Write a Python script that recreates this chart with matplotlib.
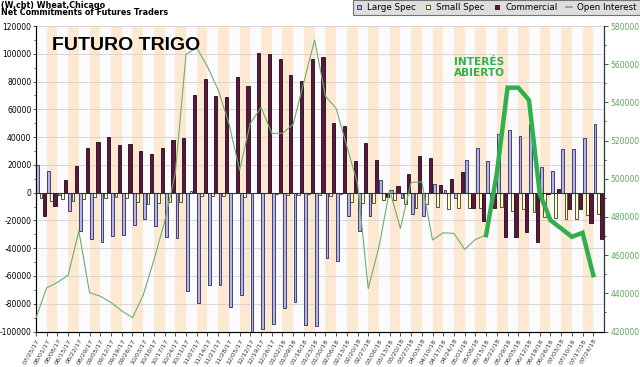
import numpy as np
import matplotlib
matplotlib.use("Agg")
import matplotlib.pyplot as plt
from matplotlib.lines import Line2D

dates = ["07/25/17", "08/01/17", "08/08/17", "08/15/17", "08/22/17", "08/29/17",
         "09/05/17", "09/12/17", "09/19/17", "09/26/17", "10/03/17", "10/10/17",
         "10/17/17", "10/24/17", "10/31/17", "11/07/17", "11/14/17", "11/21/17",
         "11/28/17", "12/05/17", "12/12/17", "12/19/17", "12/26/17", "01/02/18",
         "01/09/18", "01/16/18", "01/23/18", "01/30/18", "02/06/18", "02/13/18",
         "02/20/18", "02/27/18", "03/06/18", "03/13/18", "03/20/18", "03/27/18",
         "04/03/18", "04/10/18", "04/17/18", "04/24/18", "05/01/18", "05/08/18",
         "05/15/18", "05/22/18", "05/29/18", "06/05/18", "06/12/18", "06/19/18",
         "06/26/18", "07/03/18", "07/10/18", "07/17/18", "07/24/18"]

large_spec = [20000, 15600, -2000, -13000, -27500, -33300, -35700, -31100, -30700, -23500,
              -19200, -24200, -31600, -32800, -71100, -79500, -66800, -66800, -82400, -74000,
              -100000, -98200, -94600, -83400, -78400, -95300, -95800, -47400, -48900, -16800,
              -27500, -16500, 8900, 1700, -4100, -15100, -16500, 6000, 2200, -3600,
              23500, 31900, 22800, 41900, 45000, 40500, 49600, 18700, 15600, 31100,
              31100, 39000, 49600]

small_spec = [-4000, -6000, -4800, -5700, -4800, -3100, -3800, -2900, -3800, -6500,
              -8100, -7700, -6500, -6500, 1000, -2400, -2400, -2400, -500, -3400,
              -500, -500, -1200, -1400, -1900, -700, -1400, -2400, -1000, -6500,
              -7700, -7700, -5300, -5500, -8400, -11300, -8400, -10500, -12000, -11300,
              -11300, -11300, -10000, -10300, -12900, -12000, -13700, -17200, -18000, -18700,
              -18700, -16300, -15300]

commercial = [-16800, -9300, 9100, 19400, 32300, 36400, 40000, 34300, 35000, 29900,
              27500, 32300, 37800, 39500, 70200, 81700, 69900, 69200, 83400, 77100,
              100400, 99600, 96500, 85000, 80500, 96000, 98000, 49800, 48100, 23000,
              35700, 23500, -3400, 4800, 13200, 26600, 25100, 5500, 9800, 15100,
              -11300, -20400, -11300, -31900, -31900, -28000, -35900, -1000, 2400, -12000,
              -12000, -22000, -33500]

open_interest = [427200, 442900, 445700, 449500, 472600, 440300, 438500, 435200, 430800, 427200,
                 439000, 457400, 477500, 503000, 565200, 568600, 558700, 546500, 529000, 504500,
                 529000, 537400, 523800, 523800, 528600, 550800, 572700, 543300, 536900, 517100,
                 497600, 442500, 464300, 494100, 474000, 498100, 498400, 467900, 471700, 471400,
                 463000, 468200, 470500, 502800, 547700, 547700, 541200, 492300, 478300, 474000,
                 469600, 471700, 449500]

left_ticks = [-100000, -80000, -60000, -40000, -20000, 0, 20000, 40000, 60000, 80000, 100000, 120000]
right_ticks = [420000, 440000, 460000, 480000, 500000, 520000, 540000, 560000, 580000]
highlight_start = 42

C_LARGE = "#b4b4e8"
C_SMALL = "#ffffcc"
C_COMM = "#5a1840"
C_OI = "#6cae6c"
C_OI_HI = "#2fb04c"

fig = plt.figure(figsize=(6.4, 3.67), dpi=100)
ax = fig.add_axes([36 / 640, 1 - 331.5 / 367, (604 - 36) / 640, (331.5 - 26) / 367])
n = len(dates)
x = np.arange(n)
ax.set_xlim(0, n)
ax.set_ylim(-100000, 120000)

for i in range(n):
    ax.axvspan(i, i + 1, color="#fbfbfd" if i % 2 == 0 else "#fde9d2", lw=0, zorder=0)
ax.set_yticks(left_ticks)
ax.set_yticklabels([str(v) for v in left_ticks], fontsize=5.5)
ax.set_yticks(np.arange(-90000, 120001, 20000), minor=True)
ax.yaxis.grid(True, which="major", color="#d2d2d2", lw=0.6, zorder=1)
ax.set_axisbelow(True)

ax.bar(x + 0.03, large_spec, width=0.26, align="edge", color=C_LARGE,
       edgecolor="#2a2a58", lw=0.6, zorder=3)
ax.bar(x + 0.33, small_spec, width=0.26, align="edge", color=C_SMALL,
       edgecolor="#3a3a20", lw=0.6, zorder=3)
ax.bar(x + 0.63, commercial, width=0.3, align="edge", color=C_COMM,
       edgecolor="#250818", lw=0.6, zorder=3)
ax.axhline(0, color="#333333", lw=0.8, zorder=4)

ax.set_xticks(x)
ax.set_xticklabels(dates, rotation=60, ha="right", rotation_mode="anchor",
                   fontsize=4.6, color="#333333")
ax.tick_params(axis="x", length=3, width=0.6, color="#333333", pad=1.5)
ax.tick_params(axis="y", which="major", length=2.5, width=0.6, color="#333333", pad=0.8)
ax.tick_params(axis="y", which="minor", length=1.5, width=0.6, color="#333333")
ax.spines["top"].set_visible(False)
for s in ["left", "bottom", "right"]:
    ax.spines[s].set_color("#333333")
    ax.spines[s].set_linewidth(0.8)

ax2 = ax.twinx()
ax2.set_ylim(420000, 580000)
ax2.plot(x[:highlight_start + 1], open_interest[:highlight_start + 1], color=C_OI, lw=0.8, zorder=5)
ax2.plot(x[highlight_start:], open_interest[highlight_start:], color=C_OI_HI, lw=3.2,
         solid_joinstyle="miter", zorder=6)
ax2.set_yticks(right_ticks)
ax2.set_yticklabels([str(v) for v in right_ticks], fontsize=5.5, color="#5aa85a")
ax2.set_yticks(np.arange(430000, 580000, 20000), minor=True)
ax2.tick_params(axis="y", which="major", length=3, width=0.6, color="#333333", pad=1.5)
ax2.tick_params(axis="y", which="minor", length=1.5, width=0.6, color="#333333")
ax2.spines["top"].set_visible(False)
ax2.spines["right"].set_color("#333333")
ax2.spines["right"].set_linewidth(0.8)

fig.text(0.002, 0.998, "(W,cbt) Wheat,Chicago", fontsize=5.8, weight="bold", va="top")
fig.text(0.002, 0.977, "Net Commitments of Futures Traders", fontsize=5.8, weight="bold", va="top")

fig.text(52 / 640, 1 - 46 / 367, "FUTURO TRIGO", fontsize=14, weight="bold",
         family="Liberation Sans", va="center", ha="left", color="black")
fig.text(454 / 640, 1 - 57 / 367, "INTERÉS\nABIERTO", fontsize=7.6, weight="bold",
         color=C_OI_HI, va="top", ha="left", linespacing=1.15)

handles = [
    Line2D([], [], ls="none", marker="s", ms=3.5, mfc=C_LARGE, mec="#2a2a58", mew=0.6),
    Line2D([], [], ls="none", marker="s", ms=3.5, mfc=C_SMALL, mec="#3a3a20", mew=0.6),
    Line2D([], [], ls="none", marker="s", ms=3.5, mfc=C_COMM, mec="#250818", mew=0.6),
    Line2D([], [], color=C_OI, lw=1.2),
]
leg = fig.legend(handles, ["Large Spec", "Small Spec", "Commercial", "Open Interest"],
                 loc="upper right", bbox_to_anchor=(1.0, 1.0), ncol=4, fontsize=6.3,
                 frameon=True, fancybox=False, facecolor="#d6d6d6", edgecolor="#555555",
                 borderaxespad=0, handlelength=0.7, handletextpad=0.6, columnspacing=1.0,
                 borderpad=0.35)
leg.get_frame().set_linewidth(0.8)

fig.savefig("out.png", dpi=100)
